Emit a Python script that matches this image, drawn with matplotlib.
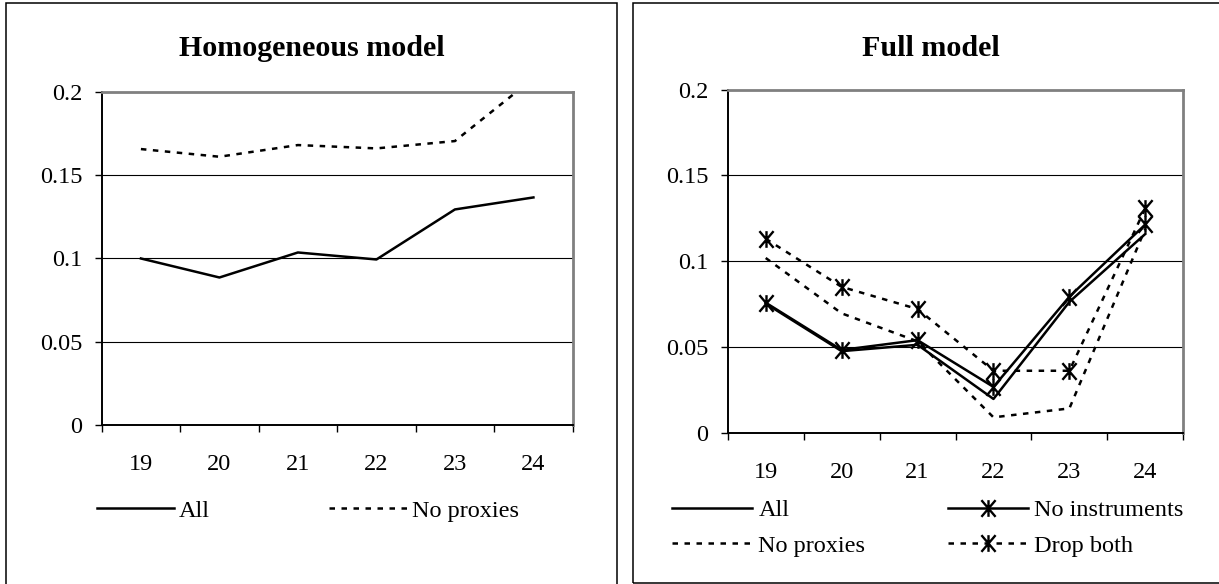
import matplotlib.pyplot as plt
from matplotlib.path import Path
from matplotlib.patches import Rectangle

plt.rcParams['font.family'] = ['Liberation Serif', 'DejaVu Serif']

# -------------------------------
# Data
# -------------------------------

years = ["19", "20", "21", "22", "23", "24"]
y_ticks = [0, 0.05, 0.1, 0.15, 0.2]
y_labels = ["0", "0.05", "0.1", "0.15", "0.2"]

# Homogeneous model
homo_all = [0.100, 0.0886, 0.1036, 0.0994, 0.1294, 0.1366]
homo_no_proxies = [0.1656, 0.1610, 0.1680, 0.1660, 0.1704, 0.208]

# Full model
full_all = [0.0755, 0.0478, 0.0515, 0.0200, 0.0765, 0.1160]
full_no_instruments = [0.0760, 0.0485, 0.0542, 0.0270, 0.0795, 0.1215]
full_no_proxies = [0.1020, 0.0698, 0.0535, 0.0093, 0.0145, 0.1190]
full_drop_both = [0.1132, 0.0852, 0.0723, 0.0364, 0.0364, 0.1310]

# -------------------------------
# Styling helpers
# -------------------------------

FS = 17.5
LW = 1.8
dash = (0, (2.2, 2.6))
# Excel-like star: X with a vertical bar
star = Path([(-0.85, -1), (0.85, 1), (-0.85, 1), (0.85, -1), (0, -1), (0, 1)],
            [Path.MOVETO, Path.LINETO] * 3)
star_style = dict(marker=star, markersize=12, markeredgewidth=1.7, markerfacecolor="none")


def style_axes(ax):
    n = len(years)
    ax.set_xlim(-0.5, n - 0.5)
    ax.set_ylim(0, 0.2)
    ax.set_yticks(y_ticks)
    ax.set_yticklabels(y_labels)
    ax.set_xticks([i - 0.5 for i in range(n + 1)])
    ax.set_xticklabels([])
    ax.set_xticks(range(n), minor=True)
    ax.set_xticklabels(years, minor=True)
    ax.tick_params(axis="x", which="major", direction="out", length=5, width=1)
    ax.tick_params(axis="x", which="minor", length=0, pad=21, labelsize=FS)
    ax.tick_params(axis="y", direction="out", length=5, width=1, pad=9, labelsize=FS)
    ax.grid(axis="y", color="black", lw=0.8)
    ax.set_axisbelow(True)
    for side in ["left", "bottom"]:
        ax.spines[side].set_color("black")
        ax.spines[side].set_linewidth(1.4)
    for side in ["top", "right"]:
        ax.spines[side].set_color("#808080")
        ax.spines[side].set_linewidth(2)


fig = plt.figure(figsize=(12.19, 5.84), dpi=100)

# panel boxes
fig.patches.append(Rectangle((0.0049, -0.02), 0.5013, 1.0149, transform=fig.transFigure,
                             fill=False, edgecolor="black", lw=1.1))
fig.patches.append(Rectangle((0.5193, 0.0023), 0.49, 0.9926, transform=fig.transFigure,
                             fill=False, edgecolor="black", lw=1.1))

# -------------------------------
# Left: Homogeneous model
# -------------------------------

ax1 = fig.add_axes([0.0834, 0.2718, 0.3864, 0.5712])
x = range(len(years))
ax1.plot(x, homo_all, color="black", lw=LW, label="All")
ax1.plot(x, homo_no_proxies, color="black", lw=LW, linestyle=dash, label="No proxies")
style_axes(ax1)
fig.text(312 / 1219, 1 - 48 / 584, "Homogeneous model", ha="center", va="center",
         fontsize=21.6, fontweight="bold")
ax1.legend(loc="center left", bbox_to_anchor=(96.5 / 1219, 1 - 510.7 / 584),
           bbox_transform=fig.transFigure, ncol=2, frameon=False, fontsize=FS,
           borderpad=0, borderaxespad=0, handlelength=3.2, handletextpad=0.2,
           columnspacing=4.9)

# -------------------------------
# Right: Full model
# -------------------------------

ax2 = fig.add_axes([0.5970, 0.2580, 0.3737, 0.5887])
l_all, = ax2.plot(x, full_all, color="black", lw=LW, label="All")
l_np, = ax2.plot(x, full_no_proxies, color="black", lw=LW, linestyle=dash,
                 label="No proxies")
l_ni, = ax2.plot(x, full_no_instruments, color="black", lw=LW, label="No instruments",
                 **star_style)
l_db, = ax2.plot(x, full_drop_both, color="black", lw=LW, linestyle=dash, label="Drop both",
                 **star_style)
style_axes(ax2)
fig.text(930.5 / 1219, 1 - 48 / 584, "Full model", ha="center", va="center",
         fontsize=21.6, fontweight="bold")
ax2.legend(handles=[l_all, l_np, l_ni, l_db], loc="center left",
           bbox_to_anchor=(672 / 1219, 1 - 528 / 584), bbox_transform=fig.transFigure,
           ncol=2, frameon=False, fontsize=FS, borderpad=0, borderaxespad=0,
           handlelength=3.3, handletextpad=0.25, columnspacing=3.4, labelspacing=0.55,
           numpoints=1)

fig.savefig("out.png", dpi=100)
